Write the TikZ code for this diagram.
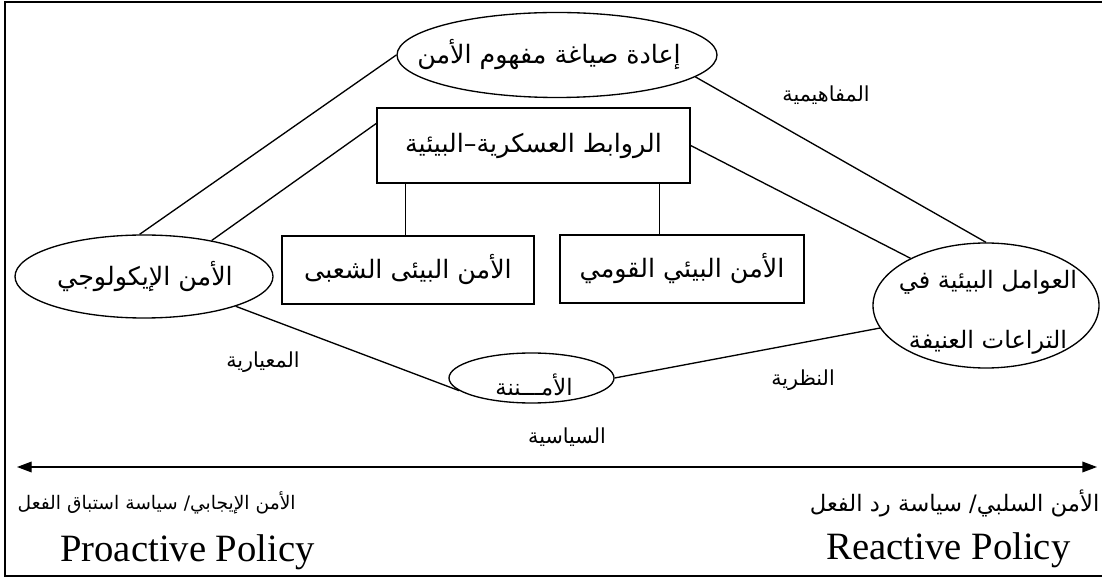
\documentclass[tikz,border=0pt]{standalone}
\usepackage{fontspec}
\setmainfont{Liberation Serif}
\newfontfamily\arabicfont[Script=Arabic]{DejaVu Sans}
\TeXXeTstate=1
\usetikzlibrary{shapes.geometric,arrows.meta}
\newcommand{\artxt}[1]{\arabicfont\beginR #1\endR}

\begin{document}
\begin{tikzpicture}[x=0.75pt,y=-0.75pt,line width=1pt,
  ellip/.style={draw,ellipse,inner sep=0pt},
  boxnode/.style={draw,rectangle,inner sep=0pt},
  maintxt/.style={font=\fontsize{19}{22}\selectfont,inner sep=0pt},
  lbl/.style={font=\fontsize{15.5}{18}\selectfont,inner sep=0pt},
  bottxt/.style={font=\fontsize{14}{16}\selectfont,inner sep=0pt},
  entxt/.style={font=\fontsize{29}{32}\selectfont,inner sep=0pt}]
\useasboundingbox (0,0) rectangle (1102,580);
% 外框
\draw[line width=1.2pt] (1102,2) -- (5,2) -- (5,576) -- (1102,576);
% 椭圆
\node[ellip,minimum width=240pt,minimum height=63.75pt] (reform) at (557,55) {};
\node[ellip,minimum width=193.5pt,minimum height=62.25pt] (ecol) at (144,276.5) {};
\node[ellip,minimum width=169.5pt,minimum height=93.75pt] (conflict) at (986,305.5) {};
\node[ellip,minimum width=123.75pt,minimum height=37.5pt] (secur) at (531.5,378) {};
\node[maintxt] (reformtxt) at (549,55) {\artxt{إعادة صياغة مفهوم الأمن}};
\node[maintxt] (ecoltxt) at (145,277) {\artxt{الأمن الإيكولوجي}};
\node[maintxt,font=\fontsize{18}{22}\selectfont,align=center] (conflicttxt) at (988,312)
  {\artxt{العوامل البيئية في}\\[23pt]\artxt{التراعات العنيفة}};
\node[maintxt,font=\fontsize{17}{20}\selectfont] (securtxt) at (534,385) {\artxt{الأمـــننة}};
% 方框
\node[boxnode,minimum width=234.75pt,minimum height=56.25pt,maintxt] (links) at (533.5,145.5)
  {\artxt{الروابط العسكرية–البيئية}};
\node[boxnode,minimum width=189pt,minimum height=51pt,maintxt] (popular) at (408,270)
  {\artxt{الأمن البيئى الشعبى}};
\node[boxnode,minimum width=183pt,minimum height=51pt,maintxt] (national) at (682,269)
  {\artxt{الأمن البيئي القومي}};
% 连线
\draw (reform.west) -- (ecol.96);
\draw (reform.-9) -- (conflict.north);
\draw (links.172) -- (ecol.28);
\draw (links.east) -- (conflict.148);
\draw ([xshift=-2pt]popular.north) -- ([xshift=-2pt]popular.north |- links.south);
\draw ([xshift=-17pt]national.north) -- ([xshift=-17pt]national.north |- links.south);
\draw (ecol.-18) -- (secur.190);
\draw (secur.east) -- (conflict.192);
% 标签
\node[lbl] (conceptual) at (826,95) {\artxt{المفاهيمية}};
\node[lbl] (normative) at (263,362) {\artxt{المعيارية}};
\node[lbl] (theoretical) at (803,380) {\artxt{النظرية}};
\node[lbl] (political) at (567,437) {\artxt{السياسية}};
% 双向箭头
\coordinate (arrL) at (17,467);
\coordinate (arrR) at (1097,467);
\draw[{Triangle[length=11pt,width=8pt]}-{Triangle[length=11pt,width=8pt]}] (arrL) -- (arrR);
% 底部文字
\node[bottxt,anchor=west] (proactivear) at (17,503) {\artxt{الأمن الإيجابي/ سياسة استباق الفعل}};
\node[bottxt,font=\fontsize{17}{20}\selectfont,anchor=east] (reactivear) at (1100,503) {\artxt{الأمن السلبي/ سياسة رد الفعل}};
\node[entxt] (proactive) at (187.5,552) {Proactive Policy};
\node[entxt] (reactive) at (948.5,550) {Reactive Policy};
\end{tikzpicture}
\end{document}
